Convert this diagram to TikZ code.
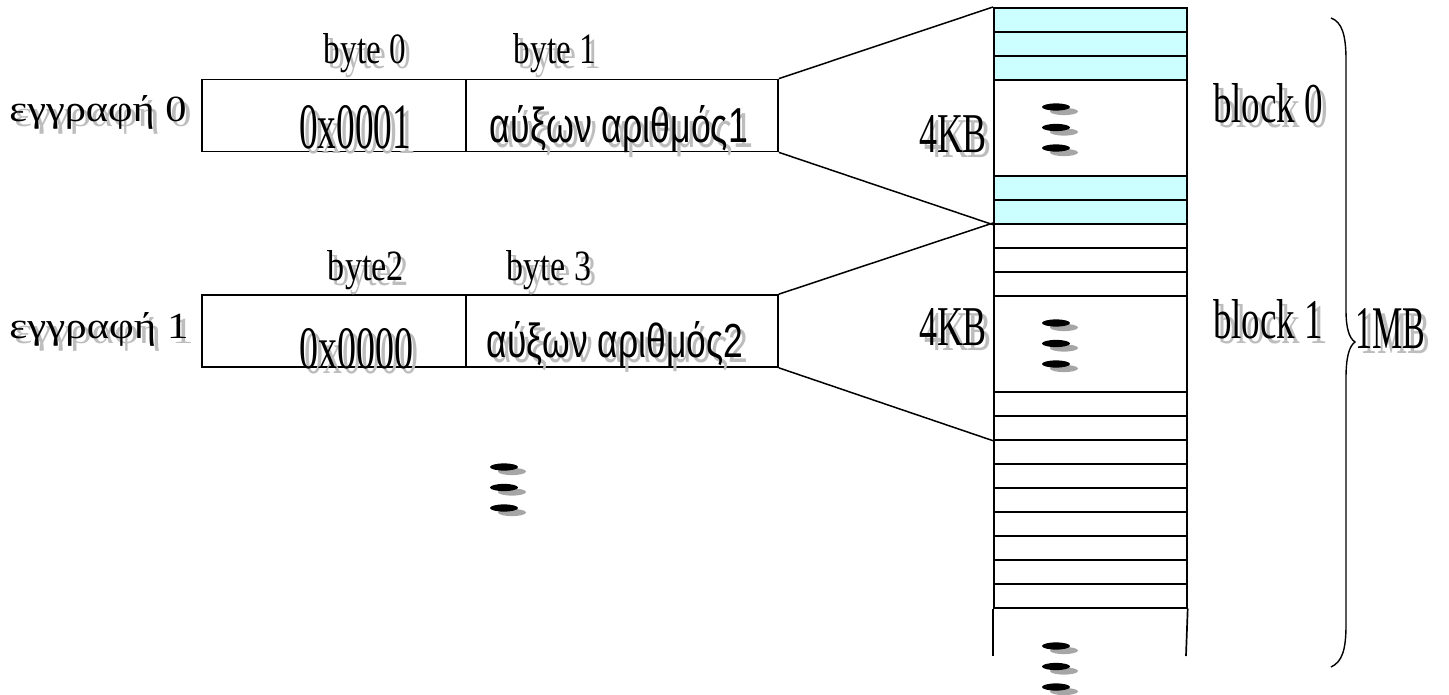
\documentclass[tikz,border=0pt]{standalone}
\usepackage{fontspec}
\usepackage{graphicx}
\setmainfont{Liberation Serif}
\newfontfamily\arialfont{Liberation Sans}
\definecolor{cyanfill}{HTML}{CCFFFF}
\definecolor{shadowgray}{HTML}{A6A6A6}
\definecolor{ghostgray}{HTML}{BDBDBD}
% text resized to a measured width and height, with a light drop shadow behind it
\newcommand{\shtxt}[3]{\rlap{\hspace{5pt}\raisebox{-5pt}{\textcolor{ghostgray}{\resizebox{#1pt}{#2pt}{#3}}}}\resizebox{#1pt}{#2pt}{#3}}
\tikzset{
  lbl/.style={inner sep=0pt, outer sep=0pt, anchor=base},
  cell/.style={draw, line width=1.7pt, minimum height=72pt, inner sep=0pt},
  memrow/.style={draw, line width=1.7pt, minimum width=193pt, minimum height=24pt, inner sep=0pt, anchor=north west},
  cyanrow/.style={memrow, fill=cyanfill},
  memblock/.style={memrow, minimum height=96pt},
  fan/.style={line width=1.5pt},
  dotspic/.pic={
    \foreach \k in {0,1,2}{
      \fill[shadowgray] (8,{4.5+20.5*\k}) ellipse (14 and 3.6);
      \fill[black] (0,{20.5*\k}) ellipse (14 and 3.6);
    }
  }
}
\begin{document}
\begin{tikzpicture}[x=1pt,y=-1pt]
\useasboundingbox[fill=white] (0,0) rectangle (1449,694);
% records
\node[cell, minimum width=264pt] (r0k) at (334,115.5) {};
\node[cell, minimum width=312pt] (r0v) at (622,115.5) {};
\node[cell, minimum width=264pt] (r1k) at (334,331) {};
\node[cell, minimum width=312pt] (r1v) at (622,331) {};
% memory column
\node[cyanrow] (c1) at (993,7) {};
\node[cyanrow] (c2) at (993,31) {};
\node[cyanrow] (c3) at (993,55) {};
\node[memblock] (b0) at (993,79) {};
\node[cyanrow] (c4) at (993,175) {};
\node[cyanrow] (c5) at (993,199) {};
\node[memrow] (w1) at (993,223) {};
\node[memrow] (w2) at (993,247) {};
\node[memrow] (w3) at (993,271) {};
\node[memblock] (b1) at (993,295) {};
\node[memrow] (w4) at (993,391) {};
\node[memrow] (w5) at (993,415) {};
\node[memrow] (w6) at (993,439) {};
\node[memrow] (w7) at (993,463) {};
\node[memrow] (w8) at (993,487) {};
\node[memrow] (w9) at (993,511) {};
\node[memrow] (w10) at (993,535) {};
\node[memrow] (w11) at (993,559) {};
\node[memrow] (w12) at (993,583) {};
\coordinate (endL) at (993,656);
\coordinate (endR) at (1186,656);
\draw[line width=1.7pt] (w12.south west) -- (endL);
\draw[line width=1.7pt] (w12.south east) -- (endR);
% fan connectors
\draw[fan] (r0v.north east) -- (c1.north west);
\draw[fan] (r0v.south east) -- (c5.south west);
\draw[fan] (r1v.north east) -- (w1.north west);
\draw[fan] (r1v.south east) -- (w5.south west);
% brace
\coordinate (brTop) at (1331,18);
\coordinate (brTip) at (1355,342);
\coordinate (brBot) at (1331,667);
\draw[line width=1.4pt] (brTop) .. controls (1342,22) and (1346,35) .. (1346,60)
  -- (1346,310) .. controls (1346,328) and (1349,338) .. (brTip)
  .. controls (1349,346) and (1346,358) .. (1346,378)
  -- (1346,625) .. controls (1346,650) and (1342,662) .. (brBot);
% labels
\node[lbl] (t0) at (98,121) {\shtxt{177}{26}{εγγραφή 0}};
\node[lbl] (t1) at (99,338) {\shtxt{179}{26}{εγγραφή 1}};
\node[lbl] (by0) at (365,63) {\shtxt{82}{30}{byte 0}};
\node[lbl] (by1) at (555,63) {\shtxt{82}{30}{byte 1}};
\node[lbl] (by2) at (366,280) {\shtxt{76}{30}{byte2}};
\node[lbl] (by3) at (549,280) {\shtxt{84}{30}{byte 3}};
\node[lbl] (v0) at (355,148) {\shtxt{112}{43}{0x0001}};
\node[lbl] (v1) at (356,368) {\shtxt{114}{40}{0x0000}};
\node[lbl] (s0) at (619,142) {\shtxt{258}{37}{\arialfont αύξων αριθμός1}};
\node[lbl] (s1) at (615,357) {\shtxt{256}{36}{\arialfont αύξων αριθμός2}};
\node[lbl] (k0) at (953,152) {\shtxt{68}{37}{4KB}};
\node[lbl] (k1) at (953,345) {\shtxt{68}{37}{4KB}};
\node[lbl] (bl0) at (1268,122) {\shtxt{110}{39}{block 0}};
\node[lbl] (bl1) at (1268,338) {\shtxt{110}{39}{block 1}};
\node[lbl] (mb) at (1390,348) {\shtxt{70}{40}{1MB}};
% ellipsis dots
\pic at (504,467) {dotspic};
\pic at (1056,107) {dotspic};
\pic at (1056,323) {dotspic};
\pic at (1056,646) {dotspic};
\end{tikzpicture}
\end{document}
